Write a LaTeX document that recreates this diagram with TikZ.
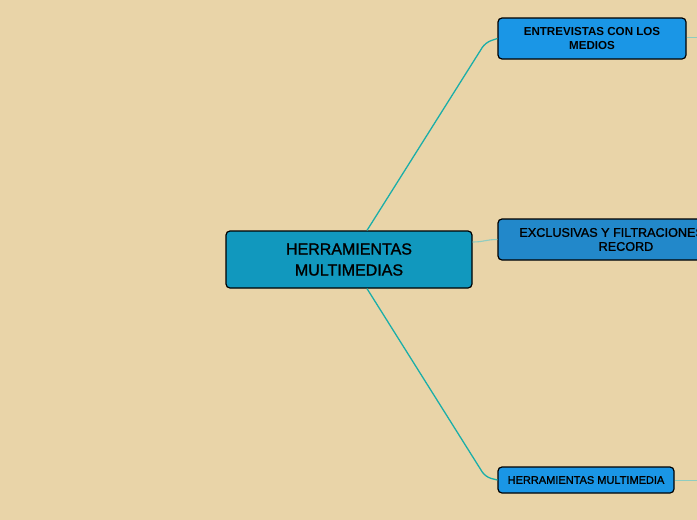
\documentclass[tikz,border=0pt]{standalone}
\usepackage{fontspec}
\setmainfont{Liberation Sans}
\newfontfamily\mediumfont{Liberation Sans}[FakeBold=1.2]
\definecolor{paper}{HTML}{E9D4A8}
\definecolor{rootblue}{HTML}{1198BE}
\definecolor{topicblue}{HTML}{1A96E6}
\definecolor{midblue}{HTML}{2288CA}
\definecolor{branchteal}{HTML}{1BAEA8}
\definecolor{twigteal}{HTML}{8FCCC0}

\begin{document}
\begin{tikzpicture}[x=1pt, y=-1pt,
    box/.style={draw=black, line width=1.2pt, rounded corners=4pt, align=center, inner sep=0pt},
    topic/.style={box, fill=topicblue, font=\mediumfont\fontsize{11}{14}\selectfont},
    branch/.style={draw=branchteal, line width=1.3pt, rounded corners=6pt},
    twig/.style={draw=twigteal, line width=0.8pt}]
    \useasboundingbox (0,0) rectangle (697,520);
    \fill[paper] (0,0) rectangle (697,520);
    \clip (0,0) rectangle (697,520);

    \node[box, fill=rootblue, minimum width=246, minimum height=57,
          font=\mediumfont\fontsize{16}{21}\selectfont] (root) at (349,259.5) {HERRAMIENTAS\\MULTIMEDIAS};
    \node[topic, minimum width=188, minimum height=41, font=\bfseries\fontsize{11.6}{14}\selectfont]
          (prensa) at (592,38.5) {ENTREVISTAS CON LOS\\MEDIOS};
    \node[topic, fill=midblue, minimum width=256, minimum height=41,
          font=\mediumfont\fontsize{12.6}{14}\selectfont]
          (exclusivas) at (626,239.5) {EXCLUSIVAS Y FILTRACIONES OFF\\RECORD};
    \node[topic, minimum width=176, minimum height=26] (multimedia) at (586,480) {HERRAMIENTAS MULTIMEDIA};

    \coordinate (prensaend) at (700,37);
    \coordinate (multimediaend) at (700,480);

    \draw[branch] ([xshift=18pt]root.north) -- ([xshift=-12pt,yshift=-4pt]prensa.west) -- (prensa.west);
    \draw[branch] ([xshift=18pt]root.south) -- ([xshift=-12pt,yshift=3pt]multimedia.west) -- (multimedia.west);
    \draw[twig, line width=1.1pt] ([yshift=17.5pt]root.east) .. controls +(12,0) and +(-12,0) .. (exclusivas.west);
    \draw[twig] ([yshift=1.5pt]prensa.east) -- (prensaend);
    \draw[twig] (multimedia.east) -- (multimediaend);
  \end{tikzpicture}
\end{document}
